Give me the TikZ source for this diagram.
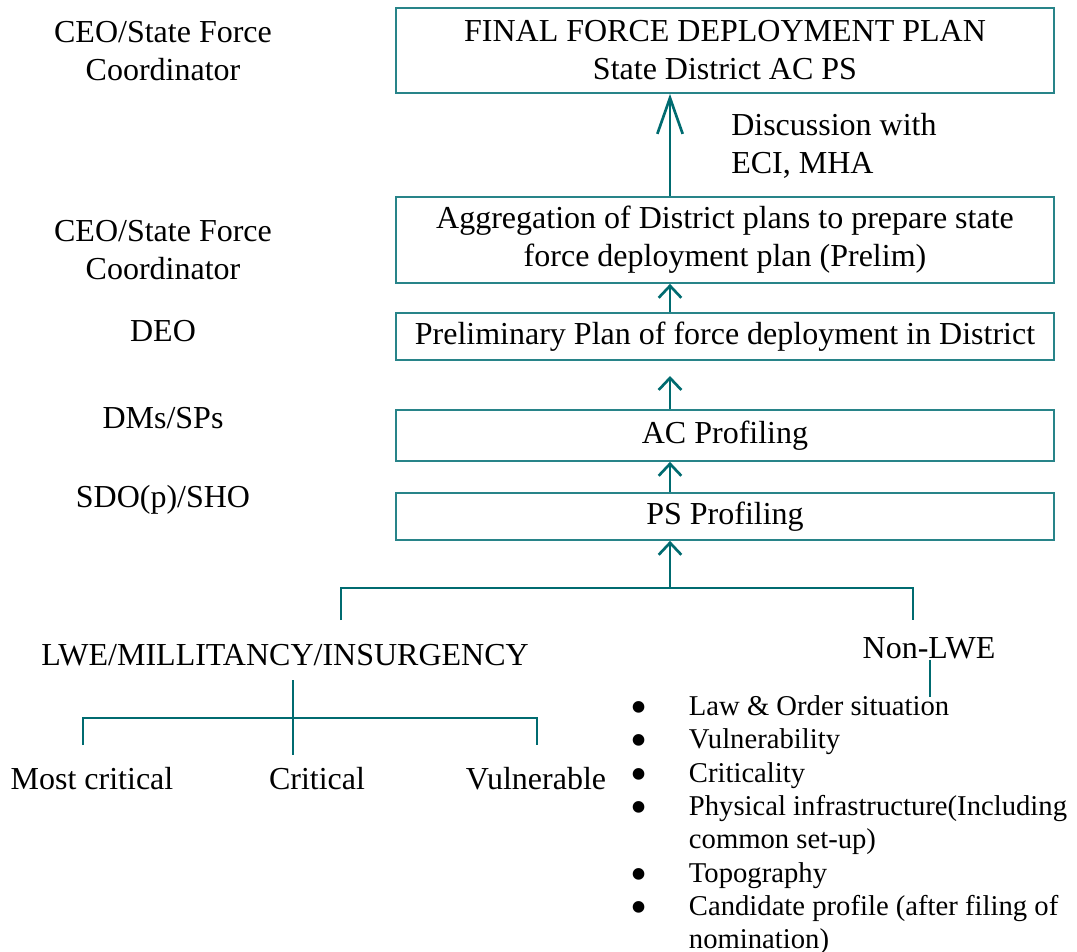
\documentclass[tikz,border=0pt]{standalone}
\usepackage{fontspec}
\setmainfont{Liberation Serif}
\usepackage{tikz}
\usetikzlibrary{arrows.meta}

\definecolor{tealline}{RGB}{0,107,112}
\definecolor{tealbox}{RGB}{40,132,137}
\newcommand{\factorbullet}{\smash{\raisebox{-0.6ex}{\scalebox{1.7}{\textbullet}}}}

\tikzset{
  planbox/.style={draw=tealbox, line width=1.3pt, minimum width=493.5pt, align=center, inner sep=0pt},
  rolelabel/.style={align=center, inner sep=0.75pt},
  upflow/.style={draw=tealline, line width=2.2pt, -{Straight Barb[length=9pt,width=17pt,line width=2pt]}},
  bracket/.style={draw=tealline, line width=2.2pt}
}

\begin{document}
\begin{tikzpicture}[x=0.75pt,y=0.75pt,yscale=-1,xscale=1]
\fontsize{24}{28.5}\selectfont
\useasboundingbox (0,0) rectangle (1077,952);

% Plan boxes
\node [planbox, minimum height=63.75pt] (final) at (725,50.5) {FINAL FORCE DEPLOYMENT PLAN\\State District AC PS};
\node [planbox, minimum height=64.5pt] (aggregate) at (725,240) {Aggregation of District plans to prepare state\\force deployment plan (Prelim)};
\node [planbox, minimum height=35.25pt] (prelim) at (725,336.5) {Preliminary Plan of force deployment in District};
\node [planbox, minimum height=38.25pt] (acprof) at (725,435.5) {AC Profiling};
\node [planbox, minimum height=35.25pt] (psprof) at (725,516.5) {PS Profiling};

% Roles
\node [rolelabel] (ceoA) at (163,51) {CEO/State Force\\Coordinator};
\node [rolelabel] (ceoB) at (163,250) {CEO/State Force\\Coordinator};
\node [rolelabel] (deo) at (163,331) {DEO};
\node [rolelabel] (dmsp) at (163,418) {DMs/SPs};
\node [rolelabel] (sdo) at (163,500) {SDO(p)/SHO};

% Text Node
\node [anchor=west, align=left, inner sep=0.75pt] (discuss) at (730,146) {Discussion with\\ECI, MHA};

% Arrows up
\coordinate (spine) at (670,376);
\draw [upflow, -{Straight Barb[length=27pt,width=19pt,line width=2pt]}] (aggregate.north -| spine) -- (final.south -| spine);
\draw [upflow] (prelim.north -| spine) -- (aggregate.south -| spine);
\draw [upflow] (acprof.north -| spine) -- (spine);
\draw [upflow] (psprof.north -| spine) -- (acprof.south -| spine);
\coordinate (split) at (670,588);
\draw [upflow] (split) -- (psprof.south -| split);

% Branches
\node [inner sep=0.75pt] (lwe) at (285,655) {LWE/MILLITANCY/INSURGENCY};
\node [inner sep=0.75pt] (nonlwe) at (929,648) {Non-LWE};
\coordinate (lweTop) at (341,620);
\coordinate (nonTop) at (913,620);
\draw [bracket] (lweTop) |- (split) -| (nonTop);

% LWE categories
\node [inner sep=0.75pt] (mostcrit) at (92,779) {Most critical};
\node [inner sep=0.75pt] (crit) at (317,779) {Critical};
\node [inner sep=0.75pt] (vuln) at (536,779) {Vulnerable};
\coordinate (lweStem) at (293,680);
\coordinate (critStem) at (293,755);
\coordinate (mostStem) at (83,745);
\coordinate (vulnStem) at (537,745);
\draw [bracket] (lweStem) -- (critStem);
\draw [bracket] (mostStem) |- (lweStem |- 0,718) -| (vulnStem);

% Non-LWE factors
\node [anchor=north west, inner sep=0pt] (factors) at (630,692) {\fontsize{21.5}{25}\selectfont
  \begin{tabular}{@{}p{44pt}@{}l@{}}
  \factorbullet & Law \& Order situation\\
  \factorbullet & Vulnerability\\
  \factorbullet & Criticality\\
  \factorbullet & Physical infrastructure(Including\\
              & common set-up)\\
  \factorbullet & Topography\\
  \factorbullet & Candidate profile (after filing of\\
              & nomination)
  \end{tabular}};
\coordinate (nonStem) at (930,697);
\draw [bracket] (nonlwe.south -| nonStem) -- (nonStem);

\end{tikzpicture}
\end{document}
